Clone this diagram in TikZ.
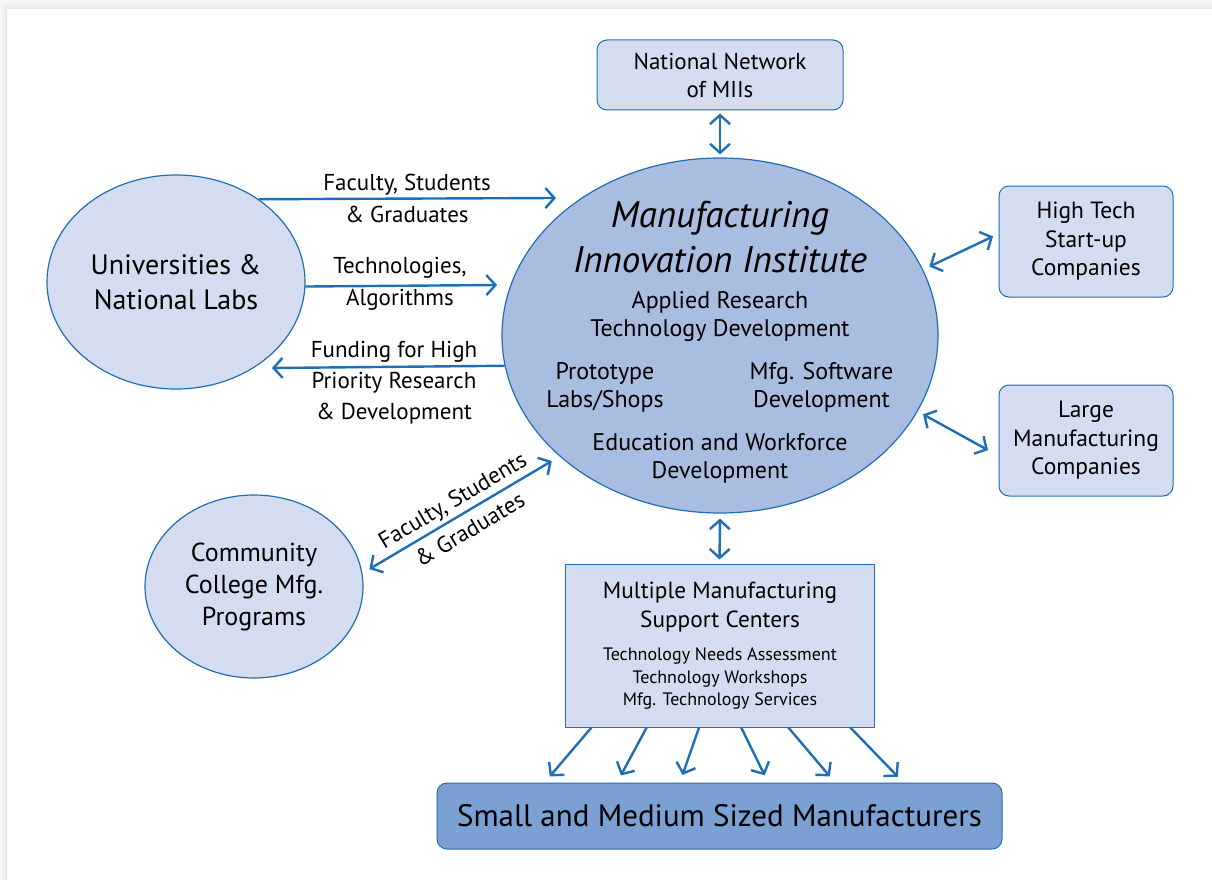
\documentclass[tikz,border=0pt]{standalone}
\usepackage{fontspec}
\setmainfont{PT Sans}
\usetikzlibrary{arrows.meta,calc,shapes.geometric}
\definecolor{edge}{HTML}{1E6FB6}
\definecolor{lightfill}{HTML}{D4DDEF}
\definecolor{midfill}{HTML}{A9BDE0}
\definecolor{darkfill}{HTML}{7BA0D3}
\tikzset{
  rbox/.style={draw=edge, line width=1pt, fill=lightfill, rounded corners=10pt, align=center, inner sep=0pt},
  ell/.style={ellipse, draw=edge, line width=1.2pt, align=center, inner sep=0pt},
  txt/.style={align=center, inner sep=0pt},
  arr/.style={draw=edge, line width=2.4pt, -{Straight Barb[length=9pt,width=20pt]}},
  dbl/.style={draw=edge, line width=2.4pt, {Straight Barb[length=9pt,width=20pt]}-{Straight Barb[length=9pt,width=20pt]}},
}
\begin{document}
\begin{tikzpicture}[x=1pt,y=-1pt]
% page with shadow
\useasboundingbox (0,0) rectangle (1212,880);
\fill[gray!6] (0,0) rectangle (1212,880);
\fill[gray!10] (2,3) rectangle (1212,880);
\fill[gray!15] (4,5) rectangle (1212,880);
\fill[gray!20] (6,8) rectangle (1212,880);
\fill[white] (7,9) rectangle (1212,880);

% main ellipse
\node[ell, fill=midfill, minimum width=436pt, minimum height=355pt] (mii) at (720,335.5) {};
\node[txt, font=\fontsize{37}{45}\selectfont\itshape] (miititle) at (720,237) {Manufacturing\\Innovation Institute};
\node[txt, font=\fontsize{24}{28}\selectfont] (applied) at (720,317) {Applied Research\\Technology Development};
\node[txt, font=\fontsize{24}{28}\selectfont] (proto) at (605,387) {Prototype\\Labs/Shops};
\node[txt, font=\fontsize{24}{28}\selectfont] (soft) at (821.5,387) {Mfg. Software\\Development};
\node[txt, font=\fontsize{24}{28}\selectfont] (edu) at (720,458) {Education and Workforce\\Development};

% top box
\node[rbox, minimum width=246pt, minimum height=70pt, font=\fontsize{23}{28}\selectfont] (nn) at (720,75) {National Network\\of MIIs};

% right boxes
\node[rbox, minimum width=174pt, minimum height=111pt, font=\fontsize{23.5}{28.5}\selectfont] (ht) at (1086,241.5) {High Tech\\Start-up\\Companies};
\node[rbox, minimum width=174pt, minimum height=111pt, font=\fontsize{23.5}{28.5}\selectfont] (lg) at (1086,440.5) {Large\\Manufacturing\\Companies};

% left ellipses
\node[ell, fill=lightfill, minimum width=258pt, minimum height=214pt, font=\fontsize{28}{35}\selectfont] (uni) at (176,282) {Universities \&\\National Labs};
\node[ell, fill=lightfill, minimum width=218pt, minimum height=183pt, font=\fontsize{26}{32}\selectfont] (cc) at (254,586.5) {Community\\College Mfg.\\Programs};

% support centers
\node[draw=edge, line width=1pt, fill=lightfill, minimum width=309pt, minimum height=163pt, inner sep=0pt] (sc) at (719.5,645.5) {};
\node[txt, font=\fontsize{23.3}{29}\selectfont] (sctitle) at (720,607) {Multiple Manufacturing\\Support Centers};
\node[txt, font=\fontsize{18}{22.5}\selectfont] (scitems) at (720,679) {Technology Needs Assessment\\Technology Workshops\\Mfg. Technology Services};

% small and medium manufacturers
\node[rbox, fill=darkfill, minimum width=565pt, minimum height=66pt, font=\fontsize{31}{34}\selectfont] (smm) at (719.5,816) {Small and Medium Sized Manufacturers};

% free ends
\coordinate (a1e) at (556,198);
\coordinate (a2e) at (497,285);
\coordinate (a3e) at (272,368);

% left arrows with labels
\draw[arr] (uni.45) -- (a1e);
\node[txt, font=\fontsize{23}{32}\selectfont] (lab1) at (407,198) {Faculty, Students\\\& Graduates};
\draw[arr] (uni.-2) -- (a2e);
\node[txt, font=\fontsize{23}{32}\selectfont] (lab2) at (400,284) {Technologies,\\Algorithms};
\draw[arr] (mii.188.6) -- (a3e);
\node[txt, font=\fontsize{23}{31}\selectfont] (lab3) at (394,383) {Funding for High\\Priority Research\\\& Development};

% diagonal
\draw[dbl, shorten <=8pt, shorten >=9pt] (cc.7) -- (mii.217.4)
  node[midway, sloped, txt, font=\fontsize{23}{34}\selectfont] (lab4) {Faculty, Students\\\& Graduates};

% right arrows
\draw[dbl, shorten <=7pt, shorten >=6pt] (mii.18.6) -- (ht.175);
\draw[dbl, shorten <=6pt, shorten >=12pt] (mii.-21.8) -- (lg.190);

% vertical arrows
\draw[dbl, shorten <=3pt, shorten >=3pt] (nn.south) -- (mii.north);
\draw[dbl, shorten <=5pt, shorten >=4pt] (mii.south) -- (sc.north);

% fan of arrows
\foreach \s/\e in {0.087/0.191, 0.265/0.319, 0.434/0.430, 0.570/0.586, 0.722/0.704, 0.922/0.825}{
  \draw[arr, shorten >=8pt] ($(sc.south west)!\s!(sc.south east)$) -- ($(smm.north west)!\e!(smm.north east)$);
}
\end{tikzpicture}
\end{document}
